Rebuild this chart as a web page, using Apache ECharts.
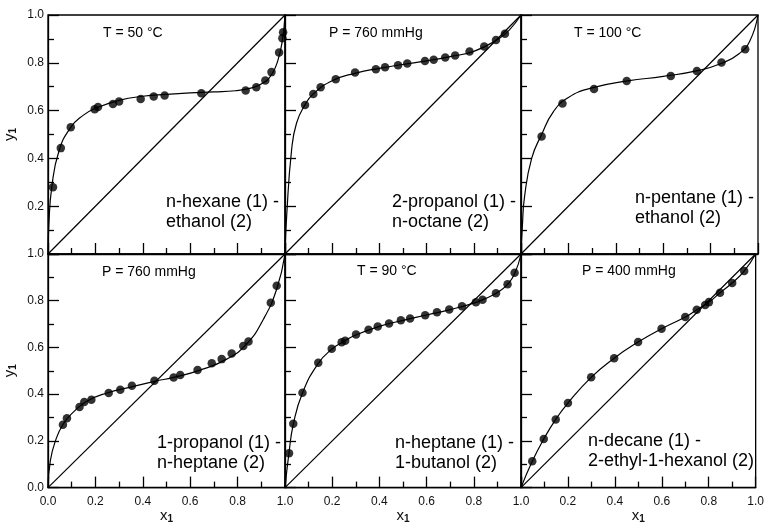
<!DOCTYPE html>
<html>
<head>
<meta charset="utf-8">
<script src="https://cdn.jsdelivr.net/npm/echarts@6/dist/echarts.min.js"></script>
<style>
  html, body { margin: 0; padding: 0; background: #fff; }
  #vle { width: 767px; height: 525px; }
</style>
</head>
<body>
<div id="vle"></div>
<script>
// measured points and fitted curves, [x1, y1]
const hexEthPts = [[0.021,0.279],[0.054,0.443],[0.096,0.530],[0.197,0.606],[0.211,0.615],[0.274,0.628],[0.300,0.638],[0.391,0.649],[0.446,0.659],[0.492,0.663],[0.647,0.673],[0.834,0.684],[0.879,0.698],[0.917,0.726],[0.943,0.761],[0.975,0.843],[0.989,0.903],[0.992,0.928]];
const hexEthFit = [[0,0],[0.004,0.13],[0.016,0.28],[0.046,0.43],[0.096,0.53],[0.148,0.58],[0.2,0.61],[0.3,0.643],[0.4,0.66],[0.5,0.668],[0.6,0.674],[0.7,0.678],[0.79,0.683],[0.86,0.695],[0.907,0.715],[0.943,0.75],[0.97,0.81],[0.989,0.895],[1,1]];

const propOctPts = [[0.085,0.623],[0.120,0.669],[0.151,0.698],[0.215,0.731],[0.297,0.759],[0.385,0.773],[0.424,0.781],[0.479,0.790],[0.518,0.797],[0.593,0.808],[0.630,0.813],[0.679,0.822],[0.721,0.831],[0.782,0.847],[0.844,0.868],[0.894,0.895],[0.932,0.922]];
const propOctFit = [[0,0],[0.007,0.158],[0.028,0.436],[0.049,0.548],[0.085,0.625],[0.12,0.67],[0.2,0.725],[0.3,0.757],[0.4,0.777],[0.5,0.793],[0.6,0.808],[0.7,0.826],[0.8,0.848],[0.9,0.897],[0.95,0.937],[1,1]];

const pentEthPts = [[0.087,0.492],[0.175,0.630],[0.308,0.690],[0.446,0.724],[0.632,0.745],[0.742,0.766],[0.846,0.801],[0.946,0.857]];
const pentEthFit = [[0,0],[0.006,0.12],[0.015,0.24],[0.045,0.40],[0.087,0.50],[0.137,0.596],[0.2,0.655],[0.3,0.695],[0.45,0.724],[0.6,0.743],[0.75,0.768],[0.85,0.799],[0.92,0.838],[0.965,0.89],[1,1]];

const propHepPts = [[0.063,0.269],[0.080,0.297],[0.133,0.345],[0.153,0.366],[0.183,0.376],[0.256,0.405],[0.305,0.419],[0.354,0.436],[0.449,0.457],[0.530,0.471],[0.558,0.482],[0.631,0.503],[0.691,0.532],[0.733,0.550],[0.775,0.574],[0.824,0.606],[0.846,0.625],[0.940,0.791],[0.965,0.864]];
const propHepFit = [[0,0],[0.01,0.116],[0.031,0.199],[0.063,0.27],[0.108,0.324],[0.164,0.37],[0.249,0.405],[0.361,0.433],[0.45,0.455],[0.53,0.472],[0.642,0.503],[0.754,0.55],[0.838,0.615],[0.909,0.721],[0.965,0.85],[1,1]];

const hepButPts = [[0.017,0.147],[0.035,0.273],[0.074,0.406],[0.141,0.534],[0.198,0.594],[0.240,0.622],[0.255,0.629],[0.301,0.655],[0.354,0.676],[0.393,0.690],[0.441,0.702],[0.491,0.716],[0.530,0.724],[0.594,0.738],[0.644,0.751],[0.696,0.762],[0.750,0.776],[0.809,0.793],[0.837,0.804],[0.894,0.832],[0.943,0.870],[0.973,0.920]];
const hepButFit = [[0,0],[0.017,0.15],[0.035,0.27],[0.074,0.405],[0.141,0.532],[0.198,0.592],[0.25,0.626],[0.3,0.653],[0.4,0.69],[0.5,0.716],[0.6,0.739],[0.7,0.762],[0.8,0.79],[0.85,0.81],[0.9,0.835],[0.943,0.87],[0.973,0.915],[1,1]];

const decEhxPts = [[0.048,0.113],[0.097,0.208],[0.148,0.292],[0.200,0.362],[0.299,0.472],[0.397,0.554],[0.499,0.623],[0.599,0.680],[0.700,0.730],[0.749,0.761],[0.785,0.782],[0.801,0.794],[0.848,0.834],[0.900,0.876],[0.951,0.927]];
const decEhxFit = [[0,0],[0.048,0.113],[0.097,0.208],[0.148,0.292],[0.2,0.362],[0.299,0.472],[0.397,0.554],[0.499,0.623],[0.599,0.68],[0.7,0.73],[0.749,0.761],[0.8,0.793],[0.848,0.834],[0.9,0.876],[0.951,0.927],[1,1]];

const diagonal = [[0,0],[1,1]];

const conditions = ['T = 50 °C', 'P = 760 mmHg', 'T = 100 °C', 'P = 760 mmHg', 'T = 90 °C', 'P = 400 mmHg'];
const systems = [
  'n-hexane (1) -\nethanol (2)',
  '2-propanol (1) -\nn-octane (2)',
  'n-pentane (1) -\nethanol (2)',
  '1-propanol (1) -\nn-heptane (2)',
  'n-heptane (1) -\n1-butanol (2)',
  'n-decane (1) -\n2-ethyl-1-hexanol (2)'
];
const panelPts = [hexEthPts, propOctPts, pentEthPts, propHepPts, hepButPts, decEhxPts];
const panelFit = [hexEthFit, propOctFit, pentEthFit, propHepFit, hepButFit, decEhxFit];

const FONT = '"Liberation Sans", Arial, "DejaVu Sans", sans-serif';
const colLeft = [48, 285, 521];
const colWidth = [237, 236, 237];
const rowTop = [15, 254];
const rowHeight = [239, 240];
// label spots inside panels
const condPos = [[103, 26], [329, 26], [574, 26], [102, 265], [357, 264], [582, 264]];
const sysPos = [[166, 192], [392, 192], [635, 188], [157, 433], [395, 433], [588, 431]];

const nameStyle = {
  color: '#111', fontFamily: FONT,
  rich: {
    v: { fontSize: 15, fontFamily: FONT, color: '#111' },
    s: { fontSize: 10, fontFamily: FONT, color: '#111', fontWeight: 'bold', padding: [6, 0, 0, 0] }
  }
};

const grids = [], xAxes = [], yAxes = [], series = [], graphics = [];

for (let i = 0; i < 6; i++) {
  const row = Math.floor(i / 3), col = i % 3;
  grids.push({
    left: colLeft[col], top: rowTop[row], width: colWidth[col], height: rowHeight[row],
    show: true, borderColor: '#000', borderWidth: 1.3, backgroundColor: 'transparent'
  });
  const axisBase = {
    gridIndex: i, type: 'value', min: 0, max: 1, interval: 0.2,
    axisLine: { show: true, lineStyle: { color: '#000', width: 1.3 } },
    axisTick: { show: true, inside: true, length: 11, lineStyle: { color: '#000', width: 1.3 } },
    minorTick: { show: true, splitNumber: 2, length: 6, lineStyle: { color: '#000', width: 1.3 } },
    splitLine: { show: false },
    minorSplitLine: { show: false }
  };
  xAxes.push(Object.assign({}, axisBase, {
    name: row === 1 ? '{v|x}{s|1}' : '',
    nameLocation: 'middle', nameGap: 19,
    nameTextStyle: nameStyle,
    axisLabel: {
      show: row === 1, color: '#111', fontSize: 12, fontFamily: FONT, margin: 8,
      showMinLabel: col === 0, showMaxLabel: true,
      formatter: v => v.toFixed(1)
    }
  }));
  yAxes.push(Object.assign({}, axisBase, {
    name: col === 0 ? '{v|y}{s|1}' : '',
    nameLocation: 'middle', nameGap: 30, nameRotate: 90,
    nameTextStyle: nameStyle,
    axisLabel: {
      show: col === 0, color: '#111', fontSize: 12, fontFamily: FONT, margin: 4,
      showMinLabel: row === 1, showMaxLabel: true,
      formatter: v => v.toFixed(1)
    }
  }));
  series.push({
    type: 'line', xAxisIndex: i, yAxisIndex: i, data: diagonal,
    symbol: 'none', lineStyle: { color: '#000', width: 1.2 }, z: 2
  });
  series.push({
    type: 'line', xAxisIndex: i, yAxisIndex: i, data: panelFit[i],
    symbol: 'none', smooth: 0.5,
    lineStyle: { color: '#000', width: 1.2 }, z: 3
  });
  series.push({
    type: 'scatter', xAxisIndex: i, yAxisIndex: i, data: panelPts[i],
    symbol: 'circle', symbolSize: 8.5, itemStyle: { color: '#000' }, z: 4
  });
  graphics.push({
    type: 'text', x: condPos[i][0], y: condPos[i][1],
    style: { text: conditions[i], fill: '#000', font: '14px ' + FONT }
  });
  graphics.push({
    type: 'text', x: sysPos[i][0], y: sysPos[i][1],
    style: { text: systems[i], fill: '#000', font: '18px ' + FONT, lineHeight: 20 }
  });
}

const chart = echarts.init(document.getElementById('vle'));
chart.setOption({
  backgroundColor: '#fff',
  animation: false,
  textStyle: { fontFamily: FONT },
  grid: grids,
  xAxis: xAxes,
  yAxis: yAxes,
  series: series,
  graphic: graphics
});
</script>
</body>
</html>
